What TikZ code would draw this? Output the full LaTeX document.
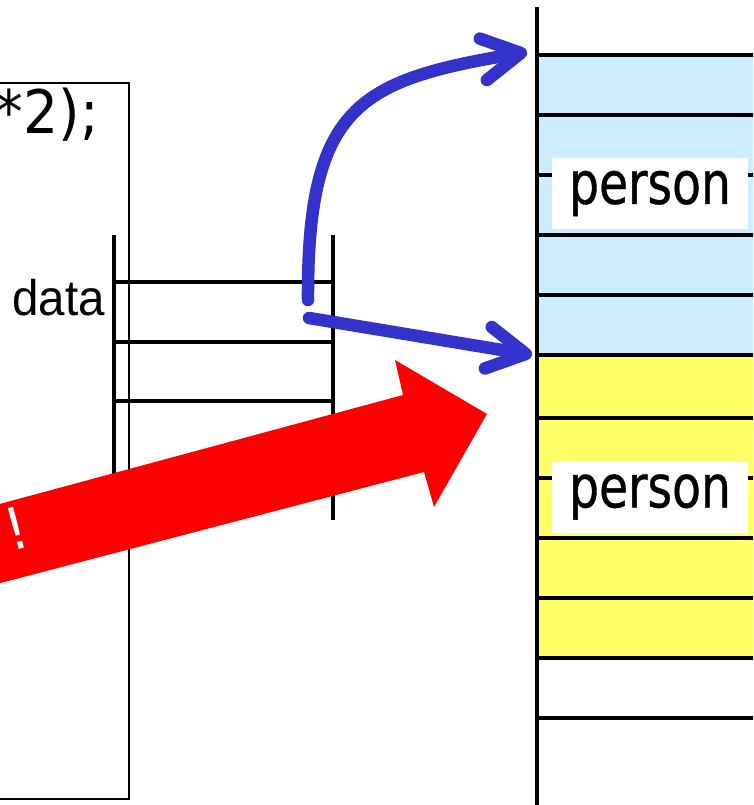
\documentclass[tikz,border=0pt]{standalone}
\usepackage{fontspec}
\usetikzlibrary{arrows.meta}
\newfontfamily\codefont[FakeStretch=0.92]{DejaVu Sans}
\newfontfamily\personfont[FakeStretch=0.8, FakeBold=0.6]{DejaVu Sans}
\newfontfamily\labelfont[FakeStretch=0.95]{Liberation Sans}
\definecolor{cellblue}{HTML}{CCECFF}
\definecolor{cellyellow}{HTML}{FFFF66}
\definecolor{arrowblue}{HTML}{3333CC}
\definecolor{bigred}{HTML}{FF0000}
\begin{document}
\begin{tikzpicture}[x=1pt,y=-1pt,
  cellline/.style={line width=4.2pt},
  stackline/.style={line width=3.5pt},
  personbox/.style={fill=white, minimum width=196pt, minimum height=71pt, inner sep=0pt,
    font=\personfont\fontsize{59pt}{64pt}\selectfont},
  bluearrow/.style={draw=arrowblue, line width=12.5pt, line cap=round, line join=round,
    -{Straight Barb[length=38pt,width=42pt,line cap=round,line join=round]}},
  bigarrow/.style={fill=bigred, draw=none}]
\useasboundingbox (0,0) rectangle (753,805);
\clip (0,0) rectangle (753,805);
\fill[white] (0,0) rectangle (753,805);

% right memory stack
\fill[cellblue] (537,55) rectangle (760,355);
\fill[cellyellow] (537,355) rectangle (760,658);
\foreach \y in {55,115,175,235,295,355,418,478,538,598,658,718}
  \draw[cellline] (537,\y) -- (760,\y);
\draw[line width=4.5pt] (537,7) -- (537,810);
\node[personbox] (p1) at (650,193.5) {person};
\node[personbox] (p2) at (650,497) {person};

% left frame
\draw[line width=2.4pt] (-5,83) rectangle (129,799);
\node[anchor=base east, inner sep=0pt, font=\codefont\fontsize{60pt}{66pt}\selectfont] (code) at (99,134) {*2);};

% small stack "data"
\draw[line width=4.5pt] (114,235) -- (114,520);
\draw[stackline] (333,235) -- (333,520);
\foreach \y in {282,342,401}
  \draw[stackline] (114,\y) -- (333,\y);
\node[anchor=base east, inner sep=0pt, font=\labelfont\fontsize{50pt}{56pt}\selectfont] (data) at (105,315) {data};

% big red arrow
\fill[bigarrow] (-30,512) -- (403,395) -- (395,360) -- (487,414) -- (434,507) -- (424,472) -- (-30,591) -- cycle;
\node[text=white, rotate=15, inner sep=0pt, font=\codefont\fontsize{58pt}{64pt}\selectfont] (bang) at (16,528) {!};

% blue arrows
\coordinate (b1s) at (308,300);
\coordinate (b1e) at (527,52);
\coordinate (b2s) at (309,318);
\coordinate (b2e) at (532,355);
\draw[bluearrow] (b1s) .. controls (307,105) and (360,80) .. (b1e);
\draw[bluearrow] (b2s) -- (b2e);
\end{tikzpicture}
\end{document}
